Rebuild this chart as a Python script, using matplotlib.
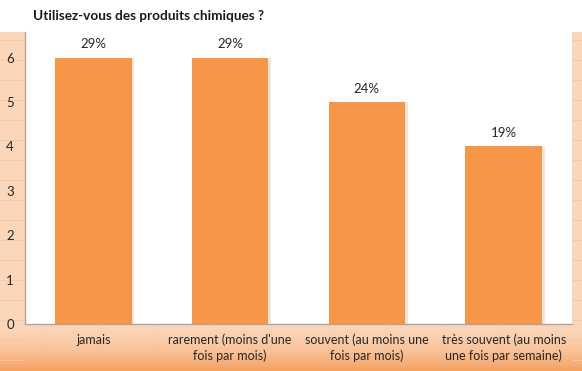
import numpy as np
import matplotlib
matplotlib.use('Agg')
import matplotlib.pyplot as plt

categories = ['jamais', "rarement (moins d'une\nfois par mois)",
              'souvent (au moins une\nfois par mois)', 'très souvent (au moins\nune fois par semaine)']
counts = [6, 6, 5, 4]
pct_labels = ['29%', '29%', '24%', '19%']
title = 'Utilisez-vous des produits chimiques ?'

plt.rcParams['font.family'] = ['Lato', 'DejaVu Sans']

W, H = 582, 371
fig = plt.figure(figsize=(W / 100, H / 100), dpi=100)

# background: white top, peach worksheet around the plot, darker orange at the bottom
bg = fig.add_axes([0, 0, 1, 1])
img = np.ones((H, W, 3))
peach = np.array([251, 214, 184]) / 255
deep = np.array([245, 160, 95]) / 255
img[32:, :] = peach
for y in range(325, H):
    t = ((y - 325) / (H - 325)) ** 1.6
    img[y, :] = peach * (1 - t) + deep * t
# faint worksheet cell lines
line_c = np.array([243, 203, 170]) / 255
for y in range(40, H, 20):
    img[y, :25] = line_c
    img[y, 572:] = line_c
    if y > 325:
        img[y, :] = img[y, :] * 0.985
for x in range(43, W, 57):
    img[325:, x] = img[325:, x] * 0.985
bg.imshow(img, aspect='auto', extent=(0, W, H, 0), interpolation='nearest')
bg.set_xlim(0, W)
bg.set_ylim(H, 0)
bg.axis('off')

ax = fig.add_axes([25 / W, (H - 324) / H, 547 / W, (324 - 32) / H])
ax.set_facecolor('white')
x = np.arange(len(categories))
# soft shadow
ax.bar(x + 0.02, counts, width=0.56, color='#f1e6dc', zorder=2)
ax.bar(x, counts, width=0.56, color='#F79646', zorder=3)
for xi, c, lab in zip(x, counts, pct_labels):
    ax.text(xi, c + 0.17, lab, ha='center', va='bottom', fontsize=9.5, color='#262626')

ax.set_xlim(-0.5, 3.5)
ax.set_ylim(0, 6.58)
ax.set_yticks(range(0, 7))
ax.set_xticks(x)
ax.set_xticklabels(categories, fontsize=9, color='#262626', linespacing=1.3)
ax.tick_params(axis='both', length=0, labelsize=9.5, labelcolor='#262626')
ax.tick_params(axis='x', pad=7, labelsize=9)
ax.tick_params(axis='y', pad=8)
for s in ['top', 'right']:
    ax.spines[s].set_visible(False)
for s in ['left', 'bottom']:
    ax.spines[s].set_color('#b0a49a')
    ax.spines[s].set_linewidth(1.0)

fig.text(33 / W, 1 - 16 / H, title, ha='left', va='center', fontsize=9.8,
         fontweight='bold', color='#1a1a1a')

fig.savefig('out.png', dpi=100)
